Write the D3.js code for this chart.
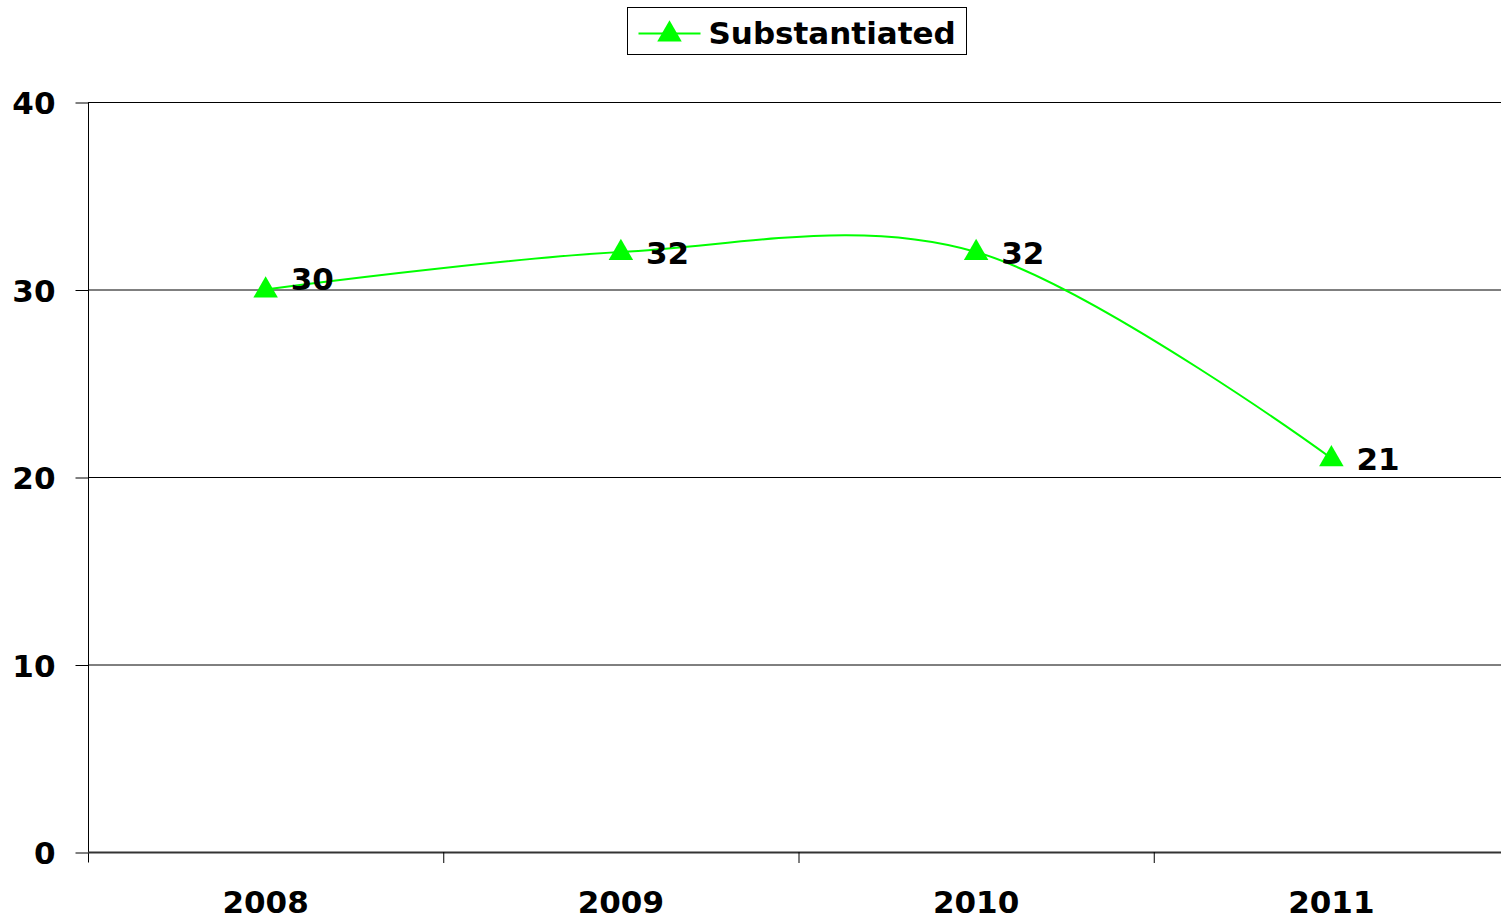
<!DOCTYPE html>
<html>
<head>
<meta charset="utf-8">
<script src="https://cdn.jsdelivr.net/npm/d3@7"></script>
<style>
  body { margin: 0; background: #fff; }
  svg text { font-family: 'DejaVu Sans', Verdana, sans-serif; font-weight: bold; }
</style>
</head>
<body>
<div id="chart"></div>
<script>
var years = ['2008', '2009', '2010', '2011'];
var substantiated = [30, 32, 32, 21];
var y_ticks = [0, 10, 20, 30, 40];
var series_name = 'Substantiated';

var width = 1501, height = 919;
var plot_left = 88, plot_top = 102, plot_bottom = 852, band = 355.25;
var font_size = 31;

var svg = d3.select('#chart')
  .append('svg')
  .attr('width', width)
  .attr('height', height);

var x = d3.scaleBand()
  .domain(years)
  .range([plot_left, plot_left + band * years.length]);

var y = d3.scaleLinear()
  .domain([0, 40])
  .range([plot_bottom, plot_top]);

// horizontal gridlines
svg.append('g')
  .selectAll('line')
  .data(y_ticks)
  .enter()
  .append('line')
  .attr('x1', plot_left)
  .attr('x2', width)
  .attr('y1', d => y(d) + 0.5)
  .attr('y2', d => y(d) + 0.5)
  .attr('stroke', '#000')
  .attr('stroke-width', 1);

// y axis
var y_axis = svg.append('g')
  .attr('transform', 'translate(' + (plot_left + 0.5) + ',0.5)')
  .call(d3.axisLeft(y).tickValues(y_ticks).tickSize(13).tickPadding(20));
y_axis.select('.domain').attr('stroke', '#000').attr('d', 'M0,' + plot_top + 'V' + (plot_bottom + 10));
y_axis.selectAll('text')
  .attr('font-size', font_size)
  .attr('fill', '#000')
  .attr('dy', '0.36em')
  .style('font-family', "'DejaVu Sans', Verdana, sans-serif")
  .style('font-weight', 'bold');

// x axis
var x_axis = svg.append('g')
  .attr('transform', 'translate(0,' + plot_bottom + ')');
x_axis.append('line')
  .attr('x1', plot_left)
  .attr('x2', width)
  .attr('y1', 0.5)
  .attr('y2', 0.5)
  .attr('stroke', '#333')
  .attr('stroke-width', 2);
x_axis.selectAll('.xtick')
  .data(years.slice(1))
  .enter()
  .append('line')
  .attr('class', 'xtick')
  .attr('x1', d => x(d) + 0.5)
  .attr('x2', d => x(d) + 0.5)
  .attr('y1', 0)
  .attr('y2', 11)
  .attr('stroke', '#000');
x_axis.selectAll('.xlabel')
  .data(years)
  .enter()
  .append('text')
  .attr('class', 'xlabel')
  .attr('x', d => x(d) + x.bandwidth() / 2)
  .attr('y', 61)
  .attr('text-anchor', 'middle')
  .attr('font-size', font_size)
  .text(d => d);

// smoothed line
var points = years.map((d, i) => ({year: d, value: substantiated[i]}));
var line = d3.line()
  .x(d => x(d.year) + x.bandwidth() / 2)
  .y(d => y(d.value))
  .curve(d3.curveCardinal.tension(0));

svg.append('path')
  .datum(points)
  .attr('d', line)
  .attr('fill', 'none')
  .attr('stroke', '#00ff00')
  .attr('stroke-width', 2);

var tri = d3.symbol().type(d3.symbolTriangle).size(260);
svg.selectAll('.marker')
  .data(points)
  .enter()
  .append('path')
  .attr('class', 'marker')
  .attr('d', tri)
  .attr('transform', d => 'translate(' + (x(d.year) + x.bandwidth() / 2) + ',' + (y(d.value) + 1) + ')')
  .attr('fill', '#00ff00');

svg.selectAll('.dlabel')
  .data(points)
  .enter()
  .append('text')
  .attr('class', 'dlabel')
  .attr('x', d => x(d.year) + x.bandwidth() / 2 + 25)
  .attr('y', d => y(d.value) + (d.year === '2008' ? 0 : 11.5))
  .attr('font-size', font_size)
  .text(d => d.value);

// legend
var legend = svg.append('g').attr('transform', 'translate(627.5,7.5)');
legend.append('rect')
  .attr('width', 339)
  .attr('height', 47)
  .attr('fill', '#fff')
  .attr('stroke', '#000');
legend.append('line')
  .attr('x1', 11).attr('x2', 73)
  .attr('y1', 26).attr('y2', 26)
  .attr('stroke', '#00ff00').attr('stroke-width', 2);
legend.append('path')
  .attr('d', tri)
  .attr('transform', 'translate(42,27)')
  .attr('fill', '#00ff00');
legend.append('text')
  .attr('x', 81)
  .attr('y', 36)
  .attr('font-size', font_size)
  .text(series_name);
</script>
</body>
</html>
